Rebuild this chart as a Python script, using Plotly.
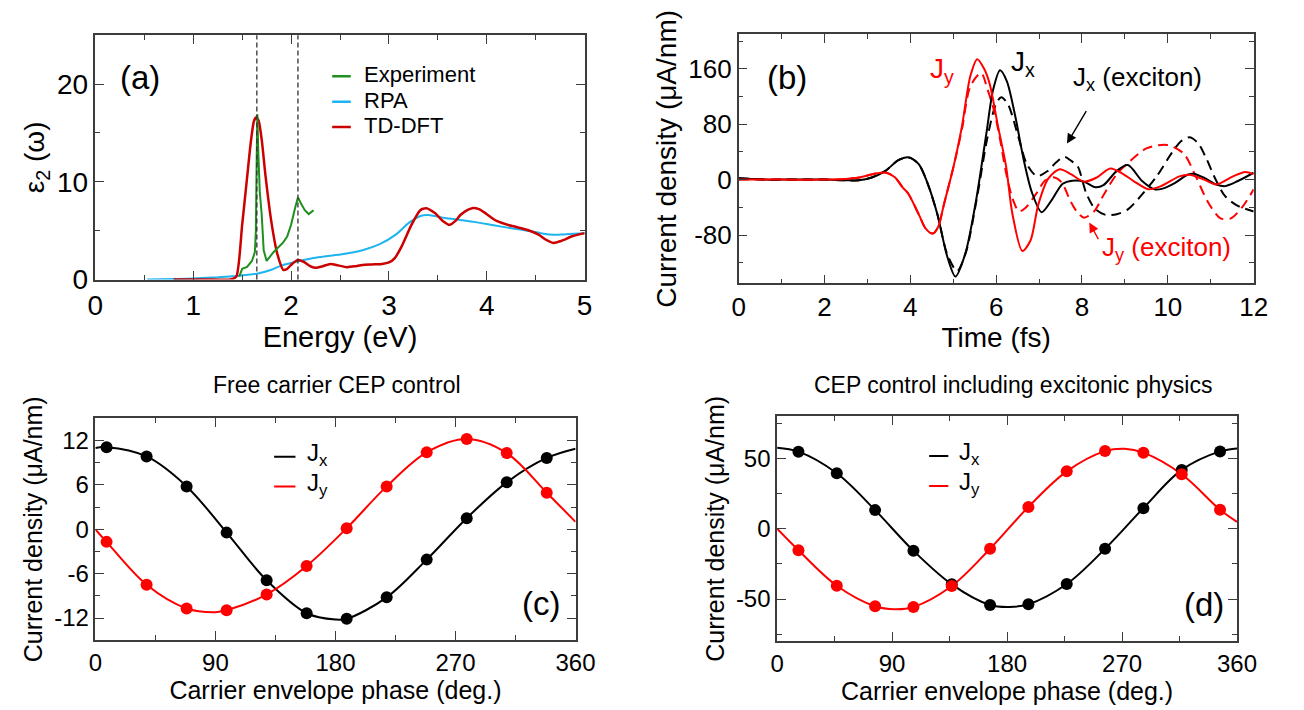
import plotly.graph_objects as go

# ---------------- Panel (a): dielectric function ----------------
energy_tddft = [0.8, 1.0, 1.2, 1.38, 1.44, 1.50, 1.55, 1.59, 1.62, 1.645, 1.67, 1.70, 1.74, 1.80, 1.86,
                1.92, 1.96, 2.01, 2.07, 2.13, 2.20, 2.25, 2.32, 2.40, 2.48, 2.57, 2.65, 2.73, 2.83,
                2.93, 3.00, 3.06, 3.13, 3.23, 3.32, 3.38, 3.47, 3.55, 3.62, 3.68, 3.73, 3.80, 3.85,
                3.92, 3.97, 4.10, 4.25, 4.41, 4.53, 4.60, 4.68, 4.76, 4.88, 5.00]
eps2_tddft = [0.0, 0.0, 0.0, 0.0, 0.3, 5.6, 10.4, 14.2, 16.2, 16.6, 16.2, 14.3, 10.5, 5.8, 2.6,
              1.0, 1.1, 1.6, 2.0, 1.8, 1.35, 1.2, 1.35, 1.6, 1.45, 1.27, 1.35, 1.5, 1.55,
              1.6, 1.75, 2.2, 3.4, 5.6, 7.1, 7.3, 6.8, 6.0, 5.6, 6.0, 6.6, 7.1, 7.3,
              7.2, 6.9, 6.0, 5.5, 5.1, 4.6, 4.1, 3.75, 3.95, 4.45, 4.75]

energy_exp = [1.47, 1.50, 1.55, 1.60, 1.63, 1.64, 1.648, 1.655, 1.665, 1.68, 1.70, 1.72, 1.75, 1.78,
              1.82, 1.87, 1.92, 1.96, 2.00, 2.04, 2.07, 2.10, 2.14, 2.18, 2.23]
eps2_exp = [0.3, 1.1, 1.3, 1.9, 2.8, 5.0, 12.0, 16.9, 13.0, 9.0, 6.6, 3.0, 1.9, 2.3,
            2.8, 3.3, 3.8, 4.4, 5.6, 7.3, 8.4, 7.8, 7.1, 6.7, 7.1]

energy_rpa = [0.53, 0.8, 1.0, 1.2, 1.4, 1.65, 1.8, 1.9, 2.07, 2.23, 2.4, 2.57, 2.73, 2.9, 3.07,
              3.2, 3.33, 3.4, 3.57, 3.73, 3.9, 4.07, 4.25, 4.41, 4.55, 4.64, 4.75, 4.84, 5.0]
eps2_rpa = [0.0, 0.05, 0.1, 0.2, 0.33, 0.6, 1.0, 1.43, 1.87, 2.2, 2.43, 2.67, 3.0, 3.6, 4.6,
            5.77, 6.53, 6.6, 6.3, 6.1, 5.85, 5.55, 5.25, 5.0, 4.75, 4.6, 4.6, 4.65, 4.75]

exciton_energies = [1.65, 2.07]

# ---------------- Panel (b): current density vs time ----------------
t_jx = [0, 0.3, 0.6, 1.0, 1.5, 2.0, 2.5, 2.8, 3.1, 3.42, 3.72, 3.97, 4.2, 4.4, 4.63, 4.86, 5.05,
        5.28, 5.54, 5.77, 5.93, 6.09, 6.25, 6.45, 6.64, 6.83, 7.06, 7.29, 7.55, 7.78, 8.05, 8.31,
        8.5, 8.81, 9.07, 9.4, 9.69, 9.88, 10.17, 10.46, 10.6, 10.85, 11.13, 11.33, 11.62, 12.0]
jx = [2, 1, 0, 0, 0, 0, -1, -1, 3, 12.6, 28, 32, 22, -5, -50, -111, -140,
      -107, -27, 66, 130, 158, 142, 90, 29, -18, -47, -30, -6, -1.5, -3, -11,
      -8, 12.6, 21, -2, -14, -13, -4.7, 7, 8.5, 2.4, -7, -9.4, -2.4, 10]

t_jx_exc = [0, 0.3, 0.6, 1.0, 1.5, 2.0, 2.5, 2.8, 3.1, 3.42, 3.72, 3.97, 4.2, 4.4, 4.63, 4.86, 5.09,
            5.3, 5.55, 5.8, 6.0, 6.12, 6.28, 6.52, 6.71, 6.95, 7.19, 7.4, 7.59, 7.75, 7.9, 8.1,
            8.3, 8.55, 8.81, 9.07, 9.31, 9.74, 10.08, 10.3, 10.5, 10.7, 10.9, 11.1, 11.33, 11.62, 12.0]
jx_exc = [2, 1, 0, 0, 0, 0, -1, -1, 3, 12.6, 28, 32, 22, -5, -50, -108, -132,
          -104, -27, 62, 110, 119, 108, 61, 23, 5, 12, 25, 33, 27, 19, -20,
          -42, -51, -50, -43, -28, 4.7, 37.6, 55, 61, 53, 30, 2, -23.5, -37.6, -46]

t_jy = [0, 1.0, 2.0, 2.5, 2.81, 3.19, 3.44, 3.64, 3.83, 3.95, 4.21, 4.35, 4.52, 4.65, 4.78, 5.01,
        5.2, 5.4, 5.56, 5.72, 5.85, 6.04, 6.23, 6.38, 6.61, 6.8, 6.98, 7.21, 7.48, 7.74, 8.05,
        8.35, 8.66, 8.96, 9.21, 9.55, 9.84, 10.27, 10.5, 10.85, 11.13, 11.52, 11.8, 12.0]
jy = [0, 0, 0, 1, 3, 8.8, 10, 3.3, -12, -20, -52, -70, -78, -68, -36.5, 19.6,
      76, 150, 174, 160, 138, 78, 19.6, -50, -103, -88, -36.5, 1, 15, 8, -3,
      3.3, 16, 8, -2.4, -14, -9.4, 4.7, 7, 0, -7, 4.7, 11, 8]

t_jy_exc = [0, 1.0, 2.0, 2.5, 2.81, 3.19, 3.44, 3.64, 3.83, 3.95, 4.21, 4.35, 4.52, 4.65, 4.78, 5.01,
            5.2, 5.4, 5.65, 5.8, 5.95, 6.1, 6.23, 6.38, 6.53, 6.68, 6.91, 7.14, 7.33, 7.52, 7.74,
            7.9, 8.05, 8.28, 8.5, 8.81, 9.07, 9.5, 9.98, 10.37, 10.65, 10.94, 11.23, 11.47, 11.76, 12.0]
jy_exc = [0, 0, 0, 1, 3, 8.8, 10, 3.3, -12, -20, -52, -70, -78, -68, -36.5, 19.6,
          72, 135, 154, 130, 100, 55, 10, -27, -46, -41, -22.5, -1.4, 3.3, -3.7, -32,
          -48, -55, -46, -22.5, 8, 24, 45, 50, 37.6, 4.7, -33, -56, -56, -37.6, -14]

# ---------------- Panel (c): free carrier CEP control ----------------
c_phase_pts = [8.4, 38.4, 68.4, 98.4, 128.4, 158.4, 188.4, 218.4, 248.4, 278.4, 308.4, 338.4]
c_jx_pts = [11.1, 9.85, 5.8, -0.45, -6.9, -11.35, -12.1, -9.2, -4.1, 1.5, 6.35, 9.65]
c_jy_pts = [-1.7, -7.5, -10.7, -10.95, -8.8, -4.95, 0.15, 5.8, 10.4, 12.2, 10.3, 4.95]

c_jx_curve_phase = [0, 8.4, 38.4, 68.4, 98.4, 128.4, 158.4, 180, 188.4, 218.4, 248.4, 278.4, 308.4, 338.4, 360]
c_jx_curve = [11.0, 11.1, 9.85, 5.8, -0.45, -6.9, -11.35, -12.2, -12.1, -9.2, -4.1, 1.5, 6.35, 9.65, 10.9]
c_jy_curve_phase = [0, 8.4, 38.4, 68.4, 90, 98.4, 128.4, 158.4, 188.4, 218.4, 248.4, 278.4, 308.4, 338.4, 360]
c_jy_curve = [0.0, -1.7, -7.5, -10.7, -11.2, -10.95, -8.8, -4.95, 0.15, 5.8, 10.4, 12.2, 10.3, 4.95, 1.0]

# ---------------- Panel (d): CEP control with excitons ----------------
d_phase_pts = [16.7, 46.7, 76.7, 106.7, 136.7, 166.7, 196.7, 226.7, 256.7, 286.7, 316.7, 346.7]
d_jx_pts = [54.9, 39.5, 13.3, -15.6, -39.5, -54.2, -53.7, -39.3, -14.2, 14.7, 41.9, 55.1]
d_jy_pts = [-15.3, -40.5, -55.1, -55.6, -40.7, -14.2, 15.6, 40.9, 55.3, 54.2, 38.8, 13.5]

d_jx_curve_phase = [0, 16.7, 46.7, 76.7, 106.7, 136.7, 166.7, 182, 196.7, 226.7, 256.7, 286.7, 316.7, 346.7, 360]
d_jx_curve = [57.7, 54.9, 39.5, 13.3, -15.6, -39.5, -54.2, -55.6, -53.7, -39.3, -14.2, 14.7, 41.9, 55.1, 57.2]
d_jy_curve_phase = [0, 16.7, 46.7, 76.7, 92, 106.7, 136.7, 166.7, 196.7, 226.7, 256.7, 272, 286.7, 316.7, 346.7, 360]
d_jy_curve = [0.0, -15.3, -40.5, -55.1, -57.2, -55.6, -40.7, -14.2, 15.6, 40.9, 55.3, 57.0, 54.2, 38.8, 13.5, 4.9]

# tick labels
a_xticks = [0, 1, 2, 3, 4, 5]; a_xlabels = ["0", "1", "2", "3", "4", "5"]
a_yticks = [0, 10, 20]; a_ylabels = ["0", "10", "20"]
b_xticks = [0, 2, 4, 6, 8, 10, 12]; b_xlabels = ["0", "2", "4", "6", "8", "10", "12"]
b_yticks = [-80, 0, 80, 160]; b_ylabels = ["-80", "0", "80", "160"]
cep_ticks = [0, 90, 180, 270, 360]; cep_labels = ["0", "90", "180", "270", "360"]
c_yticks = [-12, -6, 0, 6, 12]; c_ylabels = ["-12", "-6", "0", "6", "12"]
d_yticks = [-50, 0, 50]; d_ylabels = ["-50", "0", "50"]

FONT = "Liberation Sans, Arial, Helvetica, sans-serif"
FRAME = "#3c3c3c"
RED_A = "#cc0000"
GREEN = "#1f8f1f"
BLUE = "#1eb4f0"
RED = "#ff0000"
BLACK = "#000000"

W, H = 1304, 710


def px_x(p):
    return p / W


def px_y(p):
    return 1 - p / H


fig = go.Figure()

# ---- (a)
fig.add_trace(go.Scatter(x=energy_rpa, y=eps2_rpa, mode="lines", line=dict(color=BLUE, width=2, shape="spline"),
                         name="RPA", xaxis="x", yaxis="y", showlegend=False))
fig.add_trace(go.Scatter(x=energy_tddft, y=eps2_tddft, mode="lines", line=dict(color=RED_A, width=2.5, shape="spline", smoothing=0.6),
                         name="TD-DFT", xaxis="x", yaxis="y", showlegend=False))
fig.add_trace(go.Scatter(x=energy_exp, y=eps2_exp, mode="lines", line=dict(color=GREEN, width=2),
                         name="Experiment", xaxis="x", yaxis="y", showlegend=False))

# ---- (b)
fig.add_trace(go.Scatter(x=t_jx_exc, y=jx_exc, mode="lines", line=dict(color=BLACK, width=2, dash="10px,6px", shape="spline", smoothing=0.8),
                         name="Jx (exciton)", xaxis="x2", yaxis="y2", showlegend=False))
fig.add_trace(go.Scatter(x=t_jy_exc, y=jy_exc, mode="lines", line=dict(color=RED, width=2, dash="10px,6px", shape="spline", smoothing=0.8),
                         name="Jy (exciton)", xaxis="x2", yaxis="y2", showlegend=False))
fig.add_trace(go.Scatter(x=t_jx, y=jx, mode="lines", line=dict(color=BLACK, width=2, shape="spline", smoothing=0.8),
                         name="Jx", xaxis="x2", yaxis="y2", showlegend=False))
fig.add_trace(go.Scatter(x=t_jy, y=jy, mode="lines", line=dict(color=RED, width=2, shape="spline", smoothing=0.8),
                         name="Jy", xaxis="x2", yaxis="y2", showlegend=False))

# ---- (c)
fig.add_trace(go.Scatter(x=c_jx_curve_phase, y=c_jx_curve, mode="lines", line=dict(color=BLACK, width=2, shape="spline"),
                         name="Jx", xaxis="x3", yaxis="y3", showlegend=False))
fig.add_trace(go.Scatter(x=c_jy_curve_phase, y=c_jy_curve, mode="lines", line=dict(color=RED, width=2, shape="spline"),
                         name="Jy", xaxis="x3", yaxis="y3", showlegend=False))
fig.add_trace(go.Scatter(x=c_phase_pts, y=c_jx_pts, mode="markers", marker=dict(color=BLACK, size=12),
                         xaxis="x3", yaxis="y3", showlegend=False))
fig.add_trace(go.Scatter(x=c_phase_pts, y=c_jy_pts, mode="markers", marker=dict(color=RED, size=12),
                         xaxis="x3", yaxis="y3", showlegend=False))

# ---- (d)
fig.add_trace(go.Scatter(x=d_jx_curve_phase, y=d_jx_curve, mode="lines", line=dict(color=BLACK, width=2, shape="spline"),
                         name="Jx", xaxis="x4", yaxis="y4", showlegend=False))
fig.add_trace(go.Scatter(x=d_jy_curve_phase, y=d_jy_curve, mode="lines", line=dict(color=RED, width=2, shape="spline"),
                         name="Jy", xaxis="x4", yaxis="y4", showlegend=False))
fig.add_trace(go.Scatter(x=d_phase_pts, y=d_jx_pts, mode="markers", marker=dict(color=BLACK, size=12),
                         xaxis="x4", yaxis="y4", showlegend=False))
fig.add_trace(go.Scatter(x=d_phase_pts, y=d_jy_pts, mode="markers", marker=dict(color=RED, size=12),
                         xaxis="x4", yaxis="y4", showlegend=False))


def axis(domain, rng, tickvals, ticktext, minor_dtick, fsize, anchor, title, tsize, standoff):
    return dict(
        domain=domain, range=rng, anchor=anchor,
        tickmode="array", tickvals=tickvals, ticktext=ticktext,
        ticks="inside", ticklen=9, tickwidth=1.3, tickcolor=FRAME,
        minor=dict(ticks="inside", ticklen=5, tickwidth=1.3, tickcolor=FRAME, dtick=minor_dtick,
                   tick0=0, tickmode="linear", showgrid=False),
        showline=True, linecolor=FRAME, linewidth=1.5, mirror="ticks",
        showgrid=False, zeroline=False,
        tickfont=dict(size=fsize, color="black", family=FONT),
        title=dict(text=title, font=dict(size=tsize, color="black", family=FONT), standoff=standoff),
    )


a_xd = [px_x(89.3), px_x(589.3)]; a_yd = [px_y(286), px_y(36)]
b_xd = [px_x(746.7), px_x(1273)]; b_yd = [px_y(290), px_y(35)]
c_xd = [px_x(89.3), px_x(580)]; c_yd = [px_y(655), px_y(428)]
d_xd = [px_x(786), px_x(1256)]; d_yd = [px_y(656), px_y(426)]

fig.update_layout(
    width=W, height=H,
    margin=dict(l=0, r=0, t=0, b=0),
    paper_bgcolor="white", plot_bgcolor="white",
    font=dict(family=FONT, color="black"),
    showlegend=False,
    xaxis=axis(a_xd, [0, 5], a_xticks, a_xlabels, 0.5, 28, "y", "Energy (eV)", 29, 4),
    yaxis=axis(a_yd, [0, 25], a_yticks, a_ylabels, 5, 28, "x", "ε<sub>2</sub> (ω)", 28, 4),
    xaxis2=axis(b_xd, [0, 12], b_xticks, b_xlabels, 1, 26, "y2", "Time (fs)", 28, 4),
    yaxis2=axis(b_yd, [-150, 210], b_yticks, b_ylabels, 40, 26, "x2", "Current density (μA/nm)", 28, 4),
    xaxis3=axis(c_xd, [0, 360], cep_ticks, cep_labels, 45, 24, "y3", "Carrier envelope phase (deg.)", 25, 2),
    yaxis3=axis(c_yd, [-15, 15], c_yticks, c_ylabels, 3, 24, "x3", "Current density (μA/nm)", 25, 4),
    xaxis4=axis(d_xd, [0, 360], cep_ticks, cep_labels, 45, 24, "y4", "Carrier envelope phase (deg.)", 25, 2),
    yaxis4=axis(d_yd, [-80, 80], d_yticks, d_ylabels, 25, 24, "x4", "Current density (μA/nm)", 25, 4),
)

# dashed exciton lines in (a)
for e in exciton_energies:
    fig.add_shape(type="line", xref="x", yref="y domain", x0=e, x1=e, y0=0, y1=1,
                  line=dict(color="#333333", width=1.3, dash="5px,3px"))

ann = []


def text(x, y, s, size, color="black", xref="x", yref="y", xanchor="center", yanchor="middle"):
    ann.append(dict(x=x, y=y, xref=xref, yref=yref, text=s, showarrow=False,
                    font=dict(size=size, color=color, family=FONT), xanchor=xanchor, yanchor=yanchor))


# (a) labels & legend
text(0.46, 20.7, "(a)", 33)
a_leg_names = ["Experiment", "RPA", "TD-DFT"]
a_leg_colors = [GREEN, BLUE, RED_A]
a_leg_y = [20.95, 18.35, 15.75]
for name, col, yy in zip(a_leg_names, a_leg_colors, a_leg_y):
    fig.add_shape(type="line", xref="x", yref="y", x0=2.42, x1=2.61, y0=yy - 0.15, y1=yy - 0.15,
                  line=dict(color=col, width=2.5))
    text(2.72, yy, name, 22, xanchor="left")

# (b) labels
text(1.13, 148, "(b)", 33, xref="x2", yref="y2")
text(4.74, 157, "J<sub>y</sub>", 28, RED, "x2", "y2")
text(6.62, 167, "J<sub>x</sub>", 28, BLACK, "x2", "y2")
text(9.3, 146, "J<sub>x</sub> (exciton)", 26, BLACK, "x2", "y2")
text(9.96, -100, "J<sub>y</sub> (exciton)", 26, RED, "x2", "y2")
ann.append(dict(x=7.65, y=52, ax=8.12, ay=101, xref="x2", yref="y2", axref="x2", ayref="y2",
                text="", showarrow=True, arrowhead=2, arrowsize=1.4, arrowwidth=1.4, arrowcolor=BLACK))
ann.append(dict(x=8.17, y=-62, ax=8.4, ay=-88, xref="x2", yref="y2", axref="x2", ayref="y2",
                text="", showarrow=True, arrowhead=2, arrowsize=1.4, arrowwidth=1.4, arrowcolor=RED))

# (c) title, legend, label
text(px_x(336), px_y(394), "Free carrier CEP control", 23, xref="paper", yref="paper")
text(334, -10, "(c)", 33, xref="x3", yref="y3")
leg_names = ["J<sub>x</sub>", "J<sub>y</sub>"]
leg_colors = [BLACK, RED]
c_leg_y = [9.8, 5.8]
for name, col, yy in zip(leg_names, leg_colors, c_leg_y):
    fig.add_shape(type="line", xref="x3", yref="y3", x0=134, x1=150, y0=yy, y1=yy, line=dict(color=col, width=2))
    text(157, yy + 0.3, name, 24, xref="x3", yref="y3", xanchor="left")

# (d) title, legend, label
text(px_x(1027), px_y(394), "CEP control including excitonic physics", 23, xref="paper", yref="paper")
text(334, -54, "(d)", 33, xref="x4", yref="y4")
d_leg_y = [51.9, 30.5]
for name, col, yy in zip(leg_names, leg_colors, d_leg_y):
    fig.add_shape(type="line", xref="x4", yref="y4", x0=119, x1=134, y0=yy, y1=yy, line=dict(color=col, width=2))
    text(141, yy + 1.5, name, 24, xref="x4", yref="y4", xanchor="left")

fig.update_layout(annotations=ann)

fig.write_html("out.html")
